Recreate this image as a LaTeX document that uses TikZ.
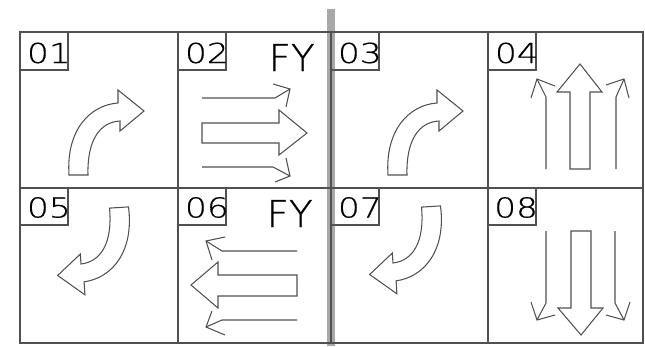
\documentclass[tikz,border=0pt]{standalone}
\usepackage{fontspec}
\setmainfont{Liberation Sans}
\newfontfamily\cadfont[FakeStretch=1.25,FakeBold=0.6]{DejaVuSans-ExtraLight.ttf}
\newfontfamily\cadfy[FakeStretch=1.05,FakeBold=0.6]{DejaVuSans-ExtraLight.ttf}
\definecolor{linec}{HTML}{505050}
\definecolor{barc}{HTML}{A8A8A8}
\tikzset{
  ln/.style={draw=linec, line width=1.05pt, line join=miter},
  numtxt/.style={anchor=base west, inner sep=0pt, font=\cadfont\fontsize{27.5}{27.5}\selectfont, text=black},
  fytxt/.style={anchor=base west, inner sep=0pt, font=\cadfy\fontsize{37}{37}\selectfont, text=black},
  bendarrow/.pic={
    \draw[ln] (-9.5,0) .. controls (-12.5,-45) and (11.5,-70) .. (39.5,-72)
      -- (39.5,-85) -- (65.5,-64) -- (41.5,-44) -- (41.5,-54)
      .. controls (21.5,-53) and (8.5,-35) .. (9.5,0) -- cycle;
  }
}
\begin{document}
\begin{tikzpicture}[x=1pt,y=-1pt]
\useasboundingbox (0,0) rectangle (645,346);
% gray divider bar
\fill[barc] (326.5,9) rectangle (334.5,346);
% grid
\draw[ln] (20,32) rectangle (643,343);
\draw[ln] (178,32) -- (178,343);
\draw[ln] (331,32) -- (331,343);
\draw[ln] (488,32) -- (488,343);
\draw[ln] (20,188) -- (643,188);
% label boxes
\draw[ln] (20,32) rectangle (68,70);
\draw[ln] (178,32) rectangle (226,70);
\draw[ln] (331,32) rectangle (379,70);
\draw[ln] (488,32) rectangle (536,70);
\draw[ln] (20,188) rectangle (68,225);
\draw[ln] (178,188) rectangle (226,225);
\draw[ln] (331,188) rectangle (379,225);
\draw[ln] (488,188) rectangle (536,225);
\node[numtxt] (t01) at (26.8,63) {01};
\node[numtxt] (t02) at (184.8,63) {02};
\node[numtxt] (t03) at (337.8,63) {03};
\node[numtxt] (t04) at (494.8,63) {04};
\node[numtxt] (t05) at (26.8,217.5) {05};
\node[numtxt] (t06) at (184.8,217.5) {06};
\node[numtxt] (t07) at (337.8,217.5) {07};
\node[numtxt] (t08) at (494,217.5) {08};
\node[fytxt] (fy1) at (268.4,71) {FY};
\node[fytxt] (fy2) at (266.4,227) {FY};
% curved arrows
\pic at (78.5,175) {bendarrow};
\pic at (397.5,175) {bendarrow};
\pic[rotate=183.6] at (119,207.5) {bendarrow};
\pic[rotate=183.6] at (431,206.5) {bendarrow};
% cell 02
\draw[ln] (202,98) -- (275,98) -- (290,89);
\draw[ln] (273,84) -- (290,89) -- (286,107);
\draw[ln] (202,123) -- (279,123) -- (279,110) -- (307,133) -- (279,155) -- (279,143) -- (202,143) -- cycle;
\draw[ln] (202,167) -- (273,167) -- (290,176);
\draw[ln] (286,158) -- (290,176) -- (275,182);
% cell 06
\draw[ln] (297,251) -- (222,251) -- (206,241);
\draw[ln] (225,237) -- (206,241) -- (212,260);
\draw[ln] (297,275) -- (218,275) -- (218,262) -- (191,285) -- (218,308) -- (218,296) -- (297,296) -- cycle;
\draw[ln] (297,320) -- (222,320) -- (206,327);
\draw[ln] (212,311) -- (206,327) -- (225,335);
% cell 04
\draw[ln] (570,169) -- (570,92) -- (557,92) -- (580,64) -- (602,92) -- (590,92) -- (590,169) -- cycle;
\draw[ln] (546,169) -- (546,97) -- (537,79);
\draw[ln] (531,98) -- (537,79) -- (555,86);
\draw[ln] (616,169) -- (616,97) -- (624,79);
\draw[ln] (606,85) -- (624,79) -- (629,98);
% cell 08
\draw[ln] (571,231) -- (571,308) -- (558,308) -- (581,335) -- (603,308) -- (591,308) -- (591,231) -- cycle;
\draw[ln] (546,231) -- (546,303) -- (537,320);
\draw[ln] (531,302) -- (537,320) -- (555,315);
\draw[ln] (615,231) -- (615,303) -- (624,320);
\draw[ln] (606,315) -- (624,320) -- (630,302);
\end{tikzpicture}
\end{document}
